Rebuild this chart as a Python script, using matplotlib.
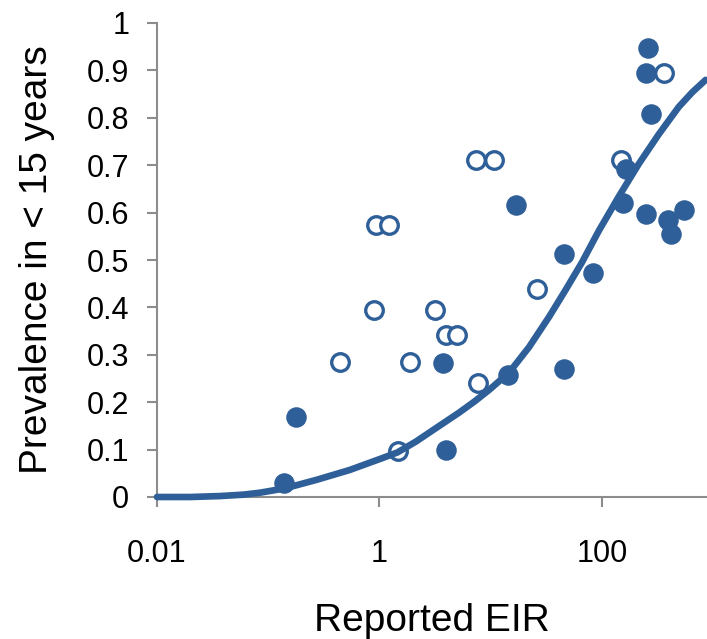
import numpy as np
import matplotlib
matplotlib.use("Agg")
import matplotlib.pyplot as plt
from matplotlib.ticker import FixedLocator, NullLocator, FixedFormatter

plt.rcParams['font.family'] = ['Liberation Sans', 'DejaVu Sans']

# open circles
open_eir = [0.90, 0.93, 1.21, 0.44, 1.87, 1.46, 3.16, 3.96, 4.93, 7.7, 25.9,
            7.36, 10.7, 147, 362]
open_prev = [0.395, 0.574, 0.574, 0.285, 0.285, 0.097, 0.395, 0.342, 0.342,
             0.240, 0.438, 0.712, 0.712, 0.712, 0.895]

# filled circles
fill_eir = [0.14, 0.177, 3.70, 3.96, 14.4, 45.6, 45.6, 83, 17.0, 154, 166,
            248, 248, 262, 279, 394, 422, 547]
fill_prev = [0.029, 0.169, 0.283, 0.099, 0.257, 0.270, 0.513, 0.472, 0.616,
             0.620, 0.692, 0.598, 0.895, 0.948, 0.809, 0.584, 0.554, 0.605]

# fitted curve
curve_eir = [0.01, 0.02, 0.037, 0.06, 0.084, 0.14, 0.27, 0.54, 1.06, 1.45,
             2.13, 3.45, 5.2, 7.2, 9.7, 14.7, 22.1, 33.5, 47.2, 66.2, 94, 142,
             215, 324, 491, 650, 857]
curve_prev = [0.0, 0.0, 0.002, 0.005, 0.009, 0.018, 0.036, 0.057, 0.082, 0.094,
              0.117, 0.150, 0.178, 0.202, 0.226, 0.263, 0.316, 0.380, 0.437,
              0.495, 0.562, 0.634, 0.703, 0.765, 0.823, 0.854, 0.880]

xticks = [0.01, 1, 100]
xtick_labels = ['0.01', '1', '100']
yticks = [0, 0.1, 0.2, 0.3, 0.4, 0.5, 0.6, 0.7, 0.8, 0.9, 1]
ytick_labels = ['0', '0.1', '0.2', '0.3', '0.4', '0.5', '0.6', '0.7', '0.8', '0.9', '1']

blue = '#2f5f98'
grey = '#8c8c8c'

fig = plt.figure(figsize=(7.07, 6.39), dpi=100)
ax = fig.add_axes([157/707, 142/639, 1 - 157/707, (497-23)/639])

ax.scatter(open_eir, open_prev, s=160, facecolors='white', edgecolors=blue,
           linewidths=2.4, zorder=3, clip_on=False)
ax.scatter(fill_eir, fill_prev, s=190, color=blue, zorder=3, clip_on=False)
ax.plot(curve_eir, curve_prev, color=blue, lw=4.8, zorder=4,
        solid_capstyle='round', solid_joinstyle='round', clip_on=False)

ax.set_xscale('log')
ax.set_xlim(0.01, 10**2.945)
ax.set_ylim(0, 1)
ax.xaxis.set_major_locator(FixedLocator(xticks))
ax.xaxis.set_major_formatter(FixedFormatter(xtick_labels))
ax.xaxis.set_minor_locator(NullLocator())
ax.set_yticks(yticks)
ax.set_yticklabels(ytick_labels)

for side in ['top', 'right']:
    ax.spines[side].set_visible(False)
for side in ['left', 'bottom']:
    ax.spines[side].set_color(grey)
    ax.spines[side].set_linewidth(1.5)

ax.tick_params(axis='both', colors=grey, length=7, width=1.5, labelcolor='black',
               labelsize=22)
ax.tick_params(axis='x', pad=23)
ax.tick_params(axis='y', pad=13)

ax.set_xlabel('Reported EIR', fontsize=28, labelpad=25)
ax.set_ylabel('Prevalence in < 15 years', fontsize=28, labelpad=23)

fig.savefig('out.png', dpi=100)
